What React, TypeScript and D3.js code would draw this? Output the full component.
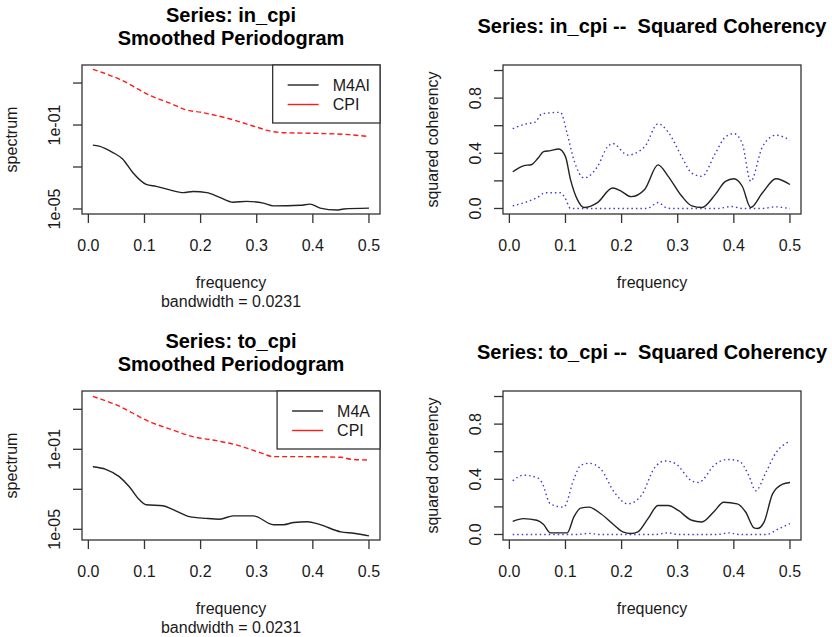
import React, { useEffect, useRef } from 'react';
import * as d3 from 'd3';

const W = 832, H = 637;
const FONT = 'Liberation Sans, Arial, sans-serif';

// frequency axis
const freqLim = [1 / 120, 0.5];
const freqTicks = [0, 0.1, 0.2, 0.3, 0.4, 0.5];
const freqLabels = ['0.0', '0.1', '0.2', '0.3', '0.4', '0.5'];

// spectrum (log) axis
const logTicks = [1e-5, 1e-3, 1e-1, 1e1];
const logLabels = ['1e-05', '', '1e-01', ''];

// coherency axis
const cohLim = [0, 1];
const cohTicks = [0, 0.2, 0.4, 0.6, 0.8, 1.0];
const cohLabels = ['0.0', '', '0.4', '', '0.8', ''];

// series: in_cpi, smoothed periodogram  [frequency, spectrum]
const inCpiM4AI: [number, number][] = [
  [0.008, 1.1e-2], [0.019, 9.8e-3], [0.043, 5.0e-3], [0.061, 2.4e-3], [0.079, 5.5e-4],
  [0.103, 1.5e-4], [0.121, 1.2e-4], [0.145, 8.1e-5], [0.169, 6.0e-5], [0.187, 6.8e-5],
  [0.211, 6.0e-5], [0.234, 3.6e-5], [0.258, 2.1e-5], [0.282, 2.3e-5], [0.312, 1.9e-5],
  [0.330, 1.4e-5], [0.378, 1.5e-5], [0.395, 1.7e-5], [0.413, 1.1e-5], [0.443, 8.9e-6],
  [0.455, 1.0e-5], [0.500, 1.1e-5],
];
const inCpiCPI: [number, number][] = [
  [0.008, 45], [0.055, 15.5], [0.112, 2.43], [0.150, 0.98], [0.171, 0.56], [0.204, 0.39],
  [0.259, 0.174], [0.300, 0.079], [0.330, 0.048], [0.348, 0.043], [0.407, 0.040],
  [0.464, 0.035], [0.500, 0.028],
];

// series: in_cpi, squared coherency  [frequency, coherency]
const inCpiCoh: [number, number][] = [
  [0.006, 0.266], [0.025, 0.309], [0.040, 0.319], [0.052, 0.37], [0.061, 0.412],
  [0.073, 0.419], [0.088, 0.431], [0.100, 0.376], [0.109, 0.209], [0.121, 0.066],
  [0.133, 0.007], [0.157, 0.043], [0.184, 0.148], [0.199, 0.126], [0.217, 0.086],
  [0.241, 0.138], [0.265, 0.316], [0.283, 0.233], [0.307, 0.090], [0.325, 0.019],
  [0.343, 0.007], [0.367, 0.102], [0.385, 0.197], [0.400, 0.216], [0.415, 0.161],
  [0.430, 0.007], [0.451, 0.114], [0.475, 0.216], [0.500, 0.174],
];
const inCpiUpper: [number, number][] = [
  [0.006, 0.579], [0.031, 0.614], [0.046, 0.626], [0.058, 0.686], [0.091, 0.697],
  [0.103, 0.543], [0.115, 0.352], [0.133, 0.221], [0.157, 0.304], [0.175, 0.447],
  [0.184, 0.471], [0.211, 0.388], [0.241, 0.447], [0.265, 0.614], [0.283, 0.554],
  [0.307, 0.376], [0.325, 0.257], [0.343, 0.233], [0.367, 0.400], [0.385, 0.519],
  [0.400, 0.543], [0.415, 0.471], [0.430, 0.197], [0.451, 0.447], [0.475, 0.531],
  [0.500, 0.495],
];
const inCpiLower: [number, number][] = [
  [0.006, 0.019], [0.031, 0.048], [0.050, 0.08], [0.064, 0.114], [0.091, 0.114],
  [0.100, 0.07], [0.109, 0.0], [0.14, 0], [0.20, 0], [0.245, 0], [0.265, 0.043],
  [0.280, 0.005], [0.289, 0], [0.37, 0], [0.397, 0.014], [0.415, 0], [0.45, 0],
  [0.475, 0.012], [0.49, 0.005], [0.5, 0],
];

// series: to_cpi, smoothed periodogram
const toCpiM4A: [number, number][] = [
  [0.008, 1.35e-2], [0.031, 1.0e-2], [0.055, 4.3e-3], [0.073, 1.35e-3], [0.091, 3.0e-4],
  [0.103, 1.7e-4], [0.133, 1.5e-4], [0.150, 1.0e-4], [0.180, 4.3e-5], [0.210, 3.5e-5],
  [0.234, 3.2e-5], [0.258, 4.7e-5], [0.294, 4.7e-5], [0.330, 1.7e-5], [0.348, 1.7e-5],
  [0.366, 2.2e-5], [0.390, 2.4e-5], [0.413, 1.7e-5], [0.450, 7.4e-6], [0.473, 6.3e-6],
  [0.500, 4.7e-6],
];
const toCpiCPI: [number, number][] = [
  [0.008, 44], [0.050, 16.6], [0.109, 2.4], [0.150, 0.93], [0.186, 0.43], [0.228, 0.27],
  [0.270, 0.148], [0.306, 0.068], [0.330, 0.043], [0.378, 0.043], [0.450, 0.040],
  [0.467, 0.032], [0.500, 0.029],
];

// series: to_cpi, squared coherency
const toCpiCoh: [number, number][] = [
  [0.006, 0.095], [0.025, 0.115], [0.049, 0.103], [0.061, 0.072], [0.073, 0.012],
  [0.103, 0.012], [0.115, 0.127], [0.127, 0.191], [0.142, 0.198], [0.163, 0.150],
  [0.187, 0.067], [0.202, 0.019], [0.217, 0.007], [0.229, 0.019], [0.247, 0.115],
  [0.265, 0.210], [0.283, 0.210], [0.301, 0.174], [0.325, 0.103], [0.343, 0.091],
  [0.364, 0.163], [0.382, 0.234], [0.406, 0.222], [0.421, 0.163], [0.436, 0.048],
  [0.442, 0.043], [0.454, 0.091], [0.469, 0.294], [0.487, 0.365], [0.500, 0.377],
];
const toCpiUpper: [number, number][] = [
  [0.006, 0.389], [0.025, 0.430], [0.049, 0.413], [0.058, 0.377], [0.073, 0.222],
  [0.097, 0.198], [0.115, 0.401], [0.127, 0.501], [0.142, 0.516], [0.163, 0.473],
  [0.187, 0.306], [0.211, 0.222], [0.235, 0.282], [0.259, 0.485], [0.277, 0.533],
  [0.295, 0.516], [0.325, 0.389], [0.337, 0.377], [0.367, 0.509], [0.388, 0.544],
  [0.409, 0.533], [0.427, 0.425], [0.439, 0.317], [0.457, 0.449], [0.475, 0.592],
  [0.500, 0.675],
];
const toCpiLower: [number, number][] = [
  [0.006, 0], [0.12, 0], [0.142, 0.008], [0.16, 0], [0.26, 0], [0.283, 0.012],
  [0.30, 0], [0.37, 0], [0.391, 0.012], [0.41, 0], [0.457, 0], [0.481, 0.043],
  [0.500, 0.079],
];

const boxW = 298, boxH = 149;

function pad(lim: number[]) {
  const e = (lim[1] - lim[0]) * 0.04;
  return [lim[0] - e, lim[1] + e];
}

type Panel = {
  left: number; top: number; title: string[]; ylab: string; bandwidth: boolean;
  log: boolean; logLim?: number[];
  lines: { data: [number, number][]; color: string; dash: string | null }[];
  legend?: string[];
};

function drawPanel(svg: d3.Selection<SVGSVGElement, unknown, null, undefined>, p: Panel) {
  const g = svg.append('g').attr('font-family', FONT);
  const x = d3.scaleLinear().domain(pad(freqLim)).range([p.left, p.left + boxW]);
  const y = p.log
    ? d3.scaleLog().domain((p.logLim as number[]).map(v => Math.pow(10, v))).range([p.top + boxH, p.top])
    : d3.scaleLinear().domain(pad(cohLim)).range([p.top + boxH, p.top]);
  const bottom = p.top + boxH;

  // data lines
  const line = d3.line<[number, number]>()
    .x(d => x(d[0]))
    .y(d => y(d[1]))
    .curve(d3.curveMonotoneX);
  p.lines.forEach(l => {
    g.append('path')
      .attr('d', line(l.data) as string)
      .attr('fill', 'none')
      .attr('stroke', l.color)
      .attr('stroke-width', 1.4)
      .attr('stroke-dasharray', l.dash);
  });

  // box
  g.append('rect')
    .attr('x', p.left).attr('y', p.top)
    .attr('width', boxW).attr('height', boxH)
    .attr('fill', 'none').attr('stroke', '#333').attr('stroke-width', 1.3);

  // x axis
  freqTicks.forEach((t, i) => {
    g.append('line')
      .attr('x1', x(t)).attr('x2', x(t))
      .attr('y1', bottom).attr('y2', bottom + 9)
      .attr('stroke', '#333').attr('stroke-width', 1.3);
    g.append('text')
      .attr('x', x(t)).attr('y', bottom + 37)
      .attr('text-anchor', 'middle').attr('font-size', 16).attr('fill', '#1a1a1a')
      .text(freqLabels[i]);
  });

  // y axis
  const yTicks = p.log ? logTicks : cohTicks;
  const yLabels = p.log ? logLabels : cohLabels;
  yTicks.forEach((t, i) => {
    g.append('line')
      .attr('x1', p.left - 9).attr('x2', p.left)
      .attr('y1', y(t)).attr('y2', y(t))
      .attr('stroke', '#333').attr('stroke-width', 1.3);
    if (yLabels[i]) {
      g.append('text')
        .attr('transform', `translate(${p.left - 22},${y(t)}) rotate(-90)`)
        .attr('text-anchor', 'middle').attr('font-size', 16).attr('fill', '#1a1a1a')
        .text(yLabels[i]);
    }
  });

  // titles
  const titleY = p.title.length === 2 ? [p.top - 43, p.top - 20] : [p.top - 32];
  p.title.forEach((t, i) => {
    g.append('text').attr('x', p.left + boxW / 2).attr('y', titleY[i])
      .attr('text-anchor', 'middle').attr('font-size', 20).attr('font-weight', 'bold')
      .style('white-space', 'pre')
      .text(t);
  });

  g.append('text').attr('x', p.left + boxW / 2).attr('y', bottom + 74)
    .attr('text-anchor', 'middle').attr('font-size', 16).attr('fill', '#1a1a1a')
    .text('frequency');
  if (p.bandwidth) {
    g.append('text').attr('x', p.left + boxW / 2).attr('y', bottom + 92.5)
      .attr('text-anchor', 'middle').attr('font-size', 16).attr('fill', '#1a1a1a')
      .text('bandwidth = 0.0231');
  }
  g.append('text')
    .attr('transform', `translate(${p.left - 65},${p.top + boxH / 2}) rotate(-90)`)
    .attr('text-anchor', 'middle').attr('font-size', 16).attr('fill', '#1a1a1a')
    .text(p.ylab);

  // legend
  if (p.legend) {
    const lg = g.append('g');
    const texts = p.legend.map(name =>
      lg.append('text').attr('font-size', 16).attr('fill', '#1a1a1a').text(name));
    const tw = d3.max(texts, t => (t.node() as SVGTextElement).getComputedTextLength()) || 0;
    const lw = tw + 70;
    const lx = p.left + boxW - lw;
    lg.insert('rect', 'text')
      .attr('x', lx).attr('y', p.top).attr('width', lw).attr('height', 58)
      .attr('fill', 'white').attr('stroke', '#333').attr('stroke-width', 1.3);
    p.legend.forEach((name, i) => {
      const ly = p.top + 20 + i * 19.5;
      lg.append('line')
        .attr('x1', lx + 15).attr('x2', lx + 46)
        .attr('y1', ly).attr('y2', ly)
        .attr('stroke', p.lines[i].color).attr('stroke-width', 1.4);
      texts[i].attr('x', lx + 60).attr('y', ly + 5.5);
    });
  }
}

export default function App() {
  const ref = useRef<SVGSVGElement>(null);

  useEffect(() => {
    const svg = d3.select(ref.current as SVGSVGElement);
    svg.selectAll('*').remove();
    const black = '#222222', red = '#ff1a1a', blue = '#3c3cd0';
    const rowOff = 326;
    drawPanel(svg, {
      left: 82, top: 65, title: ['Series: in_cpi', 'Smoothed Periodogram'], ylab: 'spectrum',
      bandwidth: true, log: true, logLim: [-5.24, 1.86],
      lines: [{ data: inCpiM4AI, color: black, dash: null }, { data: inCpiCPI, color: red, dash: '5,3' }],
      legend: ['M4AI', 'CPI'],
    });
    drawPanel(svg, {
      left: 503, top: 65, title: ['Series: in_cpi --  Squared Coherency'], ylab: 'squared coherency',
      bandwidth: false, log: false,
      lines: [
        { data: inCpiCoh, color: black, dash: null },
        { data: inCpiUpper, color: blue, dash: '1.5,3' },
        { data: inCpiLower, color: blue, dash: '1.5,3' },
      ],
    });
    drawPanel(svg, {
      left: 82, top: 65 + rowOff, title: ['Series: to_cpi', 'Smoothed Periodogram'], ylab: 'spectrum',
      bandwidth: true, log: true, logLim: [-5.535, 1.915],
      lines: [{ data: toCpiM4A, color: black, dash: null }, { data: toCpiCPI, color: red, dash: '5,3' }],
      legend: ['M4A', 'CPI'],
    });
    drawPanel(svg, {
      left: 503, top: 65 + rowOff, title: ['Series: to_cpi --  Squared Coherency'], ylab: 'squared coherency',
      bandwidth: false, log: false,
      lines: [
        { data: toCpiCoh, color: black, dash: null },
        { data: toCpiUpper, color: blue, dash: '1.5,3' },
        { data: toCpiLower, color: blue, dash: '1.5,3' },
      ],
    });
  }, []);

  return (
    <svg ref={ref} width={W} height={H}
      style={{ position: 'absolute', left: 0, top: 0, background: 'white' }} />
  );
}
